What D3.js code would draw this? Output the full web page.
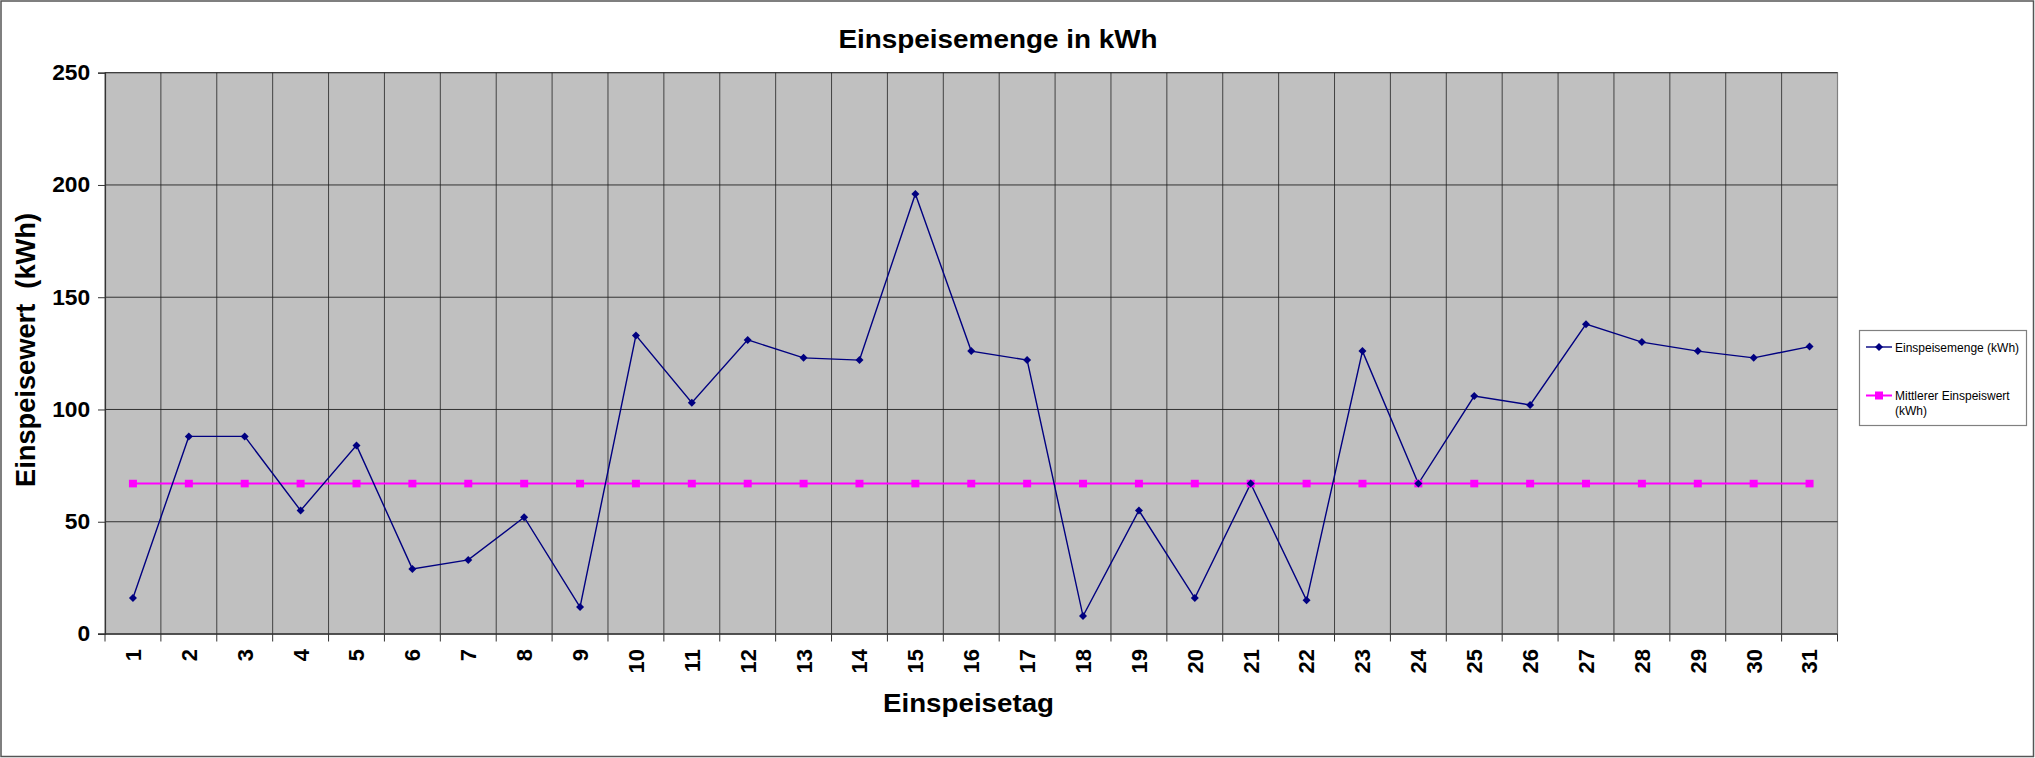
<!DOCTYPE html>
<html><head><meta charset="utf-8">
<script src="https://cdn.jsdelivr.net/npm/d3@7"></script>
<style>html,body{margin:0;padding:0;background:#fff;}svg{display:block;}</style>
</head><body>
<svg id="chart" width="2035" height="758"></svg>
<script>
const days = d3.range(1, 32).map(String);
const einspeisemenge = [16,88,88,55,84,29,33,52,12,133,103,131,123,122,196,126,122,8,55,16,67,15,126,67,106,102,138,130,126,123,128];
const mittlererWert = [67,67,67,67,67,67,67,67,67,67,67,67,67,67,67,67,67,67,67,67,67,67,67,67,67,67,67,67,67,67,67];
const yTicks = [0,50,100,150,200,250];
const titleText = "Einspeisemenge in kWh";
const xTitle = "Einspeisetag";
const yTitle = "Einspeisewert  (kWh)";
const legendLabels = ["Einspeisemenge (kWh)", ["Mittlerer Einspeiswert", "(kWh)"]];

const svg = d3.select("#chart");
const W = 2035, H = 758;
const L = 105, R = 1837.5, T = 72.7, B = 634;
const font = "'Liberation Sans', Arial, sans-serif";

svg.append("rect").attr("x",1).attr("y",1).attr("width",W-2.5).attr("height",H-2.5)
  .attr("fill","#fff").attr("stroke","#555").attr("stroke-width",1.5);

const x = d3.scaleBand().domain(days).range([L, R]).padding(0);
const y = d3.scaleLinear().domain([0,250]).range([B, T]);
const cx = d => x(d) + x.bandwidth()/2;

// plot area
svg.append("rect").attr("x",L).attr("y",T).attr("width",R-L).attr("height",B-T)
  .attr("fill","#C0C0C0").attr("stroke","#808080").attr("stroke-width",1.2);

// vertical grid at category boundaries
const bounds = days.map(d => x(d)).concat([R]);
svg.append("g").selectAll("line").data(bounds.slice(1, -1)).join("line")
  .attr("x1", d=>d).attr("x2", d=>d).attr("y1", T).attr("y2", B)
  .attr("stroke","#222").attr("stroke-width",0.8);
// horizontal grid
svg.append("g").selectAll("line").data(yTicks.slice(1)).join("line")
  .attr("x1", L).attr("x2", R).attr("y1", d=>y(d)).attr("y2", d=>y(d))
  .attr("stroke","#222").attr("stroke-width",0.9);

// y axis
const yAxis = svg.append("g").attr("transform",`translate(${L},0)`)
  .call(d3.axisLeft(y).tickValues(yTicks).tickSize(7).tickPadding(7));
yAxis.select(".domain").attr("stroke","#333").attr("stroke-width",1.2);
yAxis.selectAll(".tick line").attr("stroke","#333");
yAxis.selectAll("text").attr("font-family",font).attr("font-size",21.5).attr("font-weight","bold")
  .attr("fill","#000").attr("transform","scale(1.06,1)");

// x axis line and ticks at boundaries
svg.append("line").attr("x1",L-7).attr("x2",R).attr("y1",B).attr("y2",B)
  .attr("stroke","#333").attr("stroke-width",1.5);
svg.append("g").selectAll("line").data(bounds).join("line")
  .attr("x1",d=>d).attr("x2",d=>d).attr("y1",B).attr("y2",B+7.5)
  .attr("stroke","#333").attr("stroke-width",1);
// x labels rotated
svg.append("g").selectAll("text").data(days).join("text")
  .attr("transform", d => `translate(${cx(d)},${B+15}) rotate(-90)`)
  .attr("text-anchor","end").attr("dy","0.36em")
  .attr("font-family",font).attr("font-size",22).attr("font-weight","bold")
  .text(d => d);

// series lines
const line = d3.line().x((d,i)=>cx(days[i])).y(d=>y(d));
svg.append("path").datum(mittlererWert).attr("d",line)
  .attr("fill","none").attr("stroke","#FF00FF").attr("stroke-width",2);
svg.append("path").datum(einspeisemenge).attr("d",line)
  .attr("fill","none").attr("stroke","#000080").attr("stroke-width",1.4);

const diamond = s => `M0,${-s}L${s},0L0,${s}L${-s},0Z`;
svg.append("g").selectAll("rect").data(mittlererWert).join("rect")
  .attr("x",(d,i)=>cx(days[i])-4).attr("y",d=>y(d)-3.8).attr("width",8).attr("height",7.6)
  .attr("fill","#FF00FF");
svg.append("g").selectAll("path").data(einspeisemenge).join("path")
  .attr("transform",(d,i)=>`translate(${cx(days[i])},${y(d)})`)
  .attr("d", diamond(4)).attr("fill","#000080");

// titles
svg.append("text").attr("x",998).attr("y",48).attr("text-anchor","middle")
  .attr("font-family",font).attr("font-size",26.5).attr("font-weight","bold")
  .attr("textLength",319).attr("lengthAdjust","spacingAndGlyphs").text(titleText);
svg.append("text").attr("x",968.5).attr("y",712).attr("text-anchor","middle")
  .attr("font-family",font).attr("font-size",25.5).attr("font-weight","bold")
  .attr("textLength",171).attr("lengthAdjust","spacingAndGlyphs").text(xTitle);
svg.append("text").attr("transform","translate(35,350) rotate(-90)").attr("text-anchor","middle")
  .style("white-space","pre").attr("xml:space","preserve")
  .attr("font-family",font).attr("font-size",27).attr("font-weight","bold")
  .attr("textLength",274).attr("lengthAdjust","spacingAndGlyphs").text(yTitle);

// legend
const lg = svg.append("g");
lg.append("rect").attr("x",1859.5).attr("y",330.5).attr("width",167).attr("height",95)
  .attr("fill","#fff").attr("stroke","#808080").attr("stroke-width",1.2);
lg.append("line").attr("x1",1866).attr("x2",1892).attr("y1",347).attr("y2",347)
  .attr("stroke","#000080").attr("stroke-width",1.4);
lg.append("path").attr("transform","translate(1879,347)").attr("d",diamond(4)).attr("fill","#000080");
lg.append("text").attr("x",1895).attr("y",351.5).attr("font-family",font).attr("font-size",12)
  .text(legendLabels[0]);
lg.append("line").attr("x1",1866).attr("x2",1892).attr("y1",395.5).attr("y2",395.5)
  .attr("stroke","#FF00FF").attr("stroke-width",2);
lg.append("rect").attr("x",1875).attr("y",391.5).attr("width",8).attr("height",8).attr("fill","#FF00FF");
lg.append("text").attr("x",1895).attr("y",400).attr("font-family",font).attr("font-size",12)
  .text(legendLabels[1][0]);
lg.append("text").attr("x",1895).attr("y",414.5).attr("font-family",font).attr("font-size",12)
  .text(legendLabels[1][1]);
</script>
</body></html>
